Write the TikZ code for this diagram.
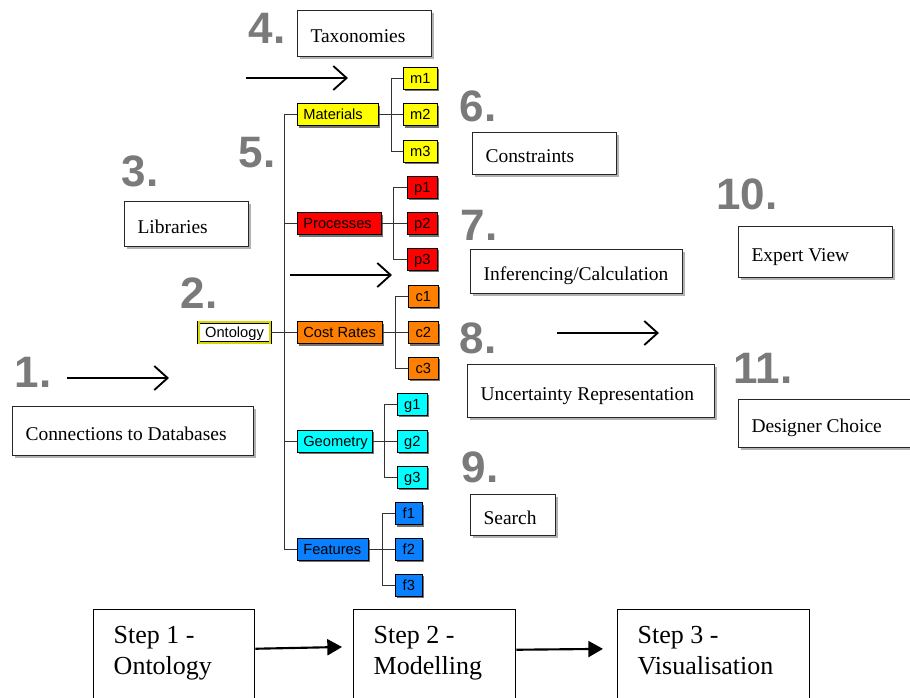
\documentclass[tikz,border=0pt]{standalone}
\usepackage{fontspec}
\setmainfont{Liberation Serif}
\setsansfont{Liberation Sans}
\usetikzlibrary{arrows.meta, shadows}
\definecolor{matYellow}{HTML}{FFFF00}
\definecolor{procRed}{HTML}{FF0000}
\definecolor{costOrange}{HTML}{FF8000}
\definecolor{geoCyan}{HTML}{00FFFF}
\definecolor{featBlue}{HTML}{0A80FF}
\definecolor{ontYellow}{HTML}{D8D800}
\definecolor{numGray}{HTML}{7A7A7A}

\begin{document}
\begin{tikzpicture}[x=0.75pt, y=-0.75pt,
        tbox/.style={draw=black!85, line width=0.8pt, fill=white, anchor=north west,
            inner xsep=9.75pt, align=flush left, text height=14pt, text depth=0pt,
            font=\fontsize{14.6}{17}\selectfont,
            drop shadow={shadow xshift=2pt, shadow yshift=-2pt, fill=black!30, opacity=1}},
        tnode/.style={draw=black, line width=0.5pt, anchor=west, minimum height=16.5pt,
            inner ysep=0pt, inner xsep=4.5pt, text height=9.5pt, text depth=1.6pt,
            font=\sffamily\fontsize{11}{12}\selectfont,
            drop shadow={shadow xshift=1.5pt, shadow yshift=-1.5pt, fill=black!55, opacity=1}},
        cat/.style={tnode, align=flush left},
        leaf/.style={tnode, align=center},
        ont/.style={draw=black, double=ontYellow, double distance=1.4pt, line width=0.5pt,
            fill=white, minimum width=53.75pt, minimum height=15.5pt, inner sep=0pt,
            text height=9.5pt, text depth=1.6pt, font=\sffamily\fontsize{11}{12}\selectfont},
        num/.style={text=numGray, inner sep=0pt, font=\sffamily\bfseries\fontsize{33}{33}\selectfont},
        stepbox/.style={draw, line width=1.1pt, fill=white, anchor=north west,
            inner xsep=15pt, inner ysep=12.75pt, font=\fontsize{19.5}{23.25}\selectfont},
        tline/.style={draw=black!80, line width=0.6pt},
        harr/.style={line width=1.4pt, -{Straight Barb[length=10pt, width=18pt]}},
        sarr/.style={line width=1.6pt, -{Triangle[length=11pt, width=12pt]}}
    ]
    \useasboundingbox (0,0) rectangle (910,697);

    \node[num] (n1) at (33,372) {1.};
    \node[num] (n2) at (199,293) {2.};
    \node[num] (n3) at (140,171) {3.};
    \node[num] (n4) at (267,28) {4.};
    \node[num] (n5) at (257,153) {5.};
    \node[num] (n6) at (478,106) {6.};
    \node[num] (n7) at (479,225) {7.};
    \node[num] (n8) at (478,338) {8.};
    \node[num] (n9) at (480,467) {9.};
    \node[num] (n10) at (747,194) {10.};
    \node[num] (n11) at (763,368) {11.};

    \node[tbox, text width=81pt, minimum height=34.5pt] (tax) at (297,10) {Taxonomies};
    \node[tbox, text width=73.5pt, minimum height=33.75pt] (lib) at (124,201) {Libraries};
    \node[tbox, text width=161.25pt, minimum height=36.75pt] (conn) at (12,406) {Connections to Databases};
    \node[tbox, text width=88.5pt, minimum height=31.5pt] (cons) at (472,132) {Constraints};
    \node[tbox, text width=139.5pt, minimum height=33pt] (infer) at (470,249) {Inferencing/Calculation};
    \node[tbox, text width=165.75pt, minimum height=39.75pt] (unc) at (467,364) {Uncertainty Representation};
    \node[tbox, text width=44.25pt, minimum height=30.75pt] (search) at (470,494) {Search};
    \node[tbox, text width=96pt, minimum height=38.25pt] (expert) at (738,226) {Expert View};
    \node[tbox, text width=119.25pt, minimum height=36pt] (design) at (738,399) {Designer Choice};

    \coordinate (a1s) at (67,378);  \coordinate (a1e) at (169,378);
    \coordinate (a4s) at (246,78);  \coordinate (a4e) at (348,78);
    \coordinate (a5s) at (290,275); \coordinate (a5e) at (392,275);
    \coordinate (a8s) at (557,333); \coordinate (a8e) at (659,333);
    \draw[harr] (a1s) -- (a1e);
    \draw[harr] (a4s) -- (a4e);
    \draw[harr] (a5s) -- (a5e);
    \draw[harr] (a8s) -- (a8e);

    % ontology tree
    \node[ont] (ont) at (234.5,332.5) {Ontology};
    \node[cat, fill=matYellow, text width=51.75pt] (mat) at (297,114.5) {Materials};
    \node[cat, fill=procRed, text width=54pt] (proc) at (297,223.5) {Processes};
    \node[cat, fill=costOrange, text width=54.75pt] (cost) at (297,332.5) {Cost~Rates};
    \node[cat, fill=geoCyan, text width=47.25pt] (geo) at (297,441) {Geometry};
    \node[cat, fill=featBlue, text width=44.25pt] (feat) at (297,549) {Features};

    \draw[tline] (mat -| 284,0) -- (feat -| 284,0);
    \foreach \p in {mat,proc,geo,feat}
        \draw[tline] (\p -| 284,0) -- (\p);
    \draw[tline] (ont) -- (cost);

    \foreach \p/\c/\col/\x/\w/\ya/\yb/\yc/\bx in {
            mat/m/matYellow/403/25.5pt/78/114.5/151/391,
            proc/p/procRed/407/22.5pt/187/223.5/259/393,
            cost/c/costOrange/408/22.5pt/296/332.5/368/395,
            geo/g/geoCyan/397/22.5pt/404/441/477/384,
            feat/f/featBlue/395/20.25pt/513.5/549/585/382} {
        \node[leaf, fill=\col, minimum width=\w] (\c1) at (\x,\ya) {\c1};
        \node[leaf, fill=\col, minimum width=\w] (\c2) at (\x,\yb) {\c2};
        \node[leaf, fill=\col, minimum width=\w] (\c3) at (\x,\yc) {\c3};
        \draw[tline] (\p) -- (\c2);
        \draw[tline] (\c1) -- (\c1 -| \bx,0) -- (\c3 -| \bx,0) -- (\c3);
    }

    % steps
    \node[stepbox] (s1) at (93,609) {\parbox[c][63pt][t]{90.75pt}{Step 1 -\\Ontology}};
    \node[stepbox] (s2) at (353,609) {\parbox[c][63pt][t]{91.5pt}{Step 2 -\\Modelling}};
    \node[stepbox] (s3) at (617,609) {\parbox[c][63pt][t]{114pt}{Step 3 -\\Visualisation}};
    \draw[sarr, shorten >=8.25pt] ([yshift=15pt]s1.east) -- ([yshift=16.5pt]s2.west);
    \draw[sarr, shorten >=10.5pt] ([yshift=14.25pt]s2.east) -- ([yshift=15pt]s3.west);
\end{tikzpicture}
\end{document}
